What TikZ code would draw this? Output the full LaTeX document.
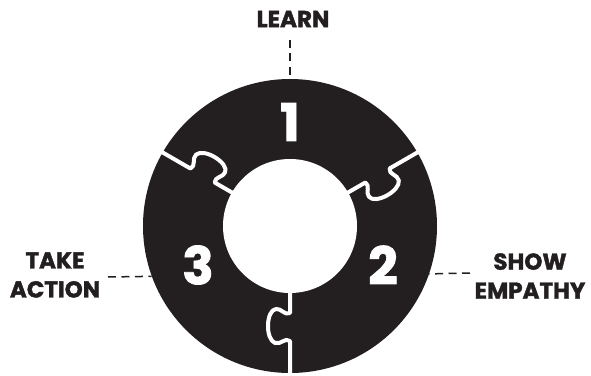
\documentclass[tikz,border=0pt]{standalone}
\usepackage{fontspec}
\setmainfont{Poppins}[BoldFeatures={FakeBold=1.6}]
\definecolor{ink}{HTML}{231F20}
\tikzset{
  seamline/.style={white, line width=4pt, line join=round, line cap=butt},
  knobseam/.pic={
    \draw[seamline] (60,0) -- (87,0)
      .. controls (90,-5) and (82,-9) .. (83,-14)
      .. controls (84,-24) and (113,-25) .. (117,-15)
      .. controls (119,-9) and (111,-5) .. (115,0)
      -- (165,0);
  },
  numlabel/.style={text=white, font=\fontsize{52}{52}\selectfont\bfseries, inner sep=0pt},
  steplabel/.style={text=ink, font=\fontsize{23}{29}\selectfont\bfseries, align=center, inner sep=0pt},
  leader/.style={ink, line width=1.5pt, dash pattern=on 8pt off 5.5pt},
}
\begin{document}
\begin{tikzpicture}[x=1pt, y=1pt]
\useasboundingbox (-290,-149) rectangle (301,226);
\node[circle, fill=ink, minimum size=294pt, inner sep=0pt] (ring) at (0,0) {};
\node[circle, fill=white, minimum size=134pt, inner sep=0pt] (hole) at (0,0) {};
\pic[rotate=30] {knobseam};
\pic[rotate=150] {knobseam};
\pic[rotate=270] {knobseam};
\node[numlabel] (n1) at (0,104) {1};
\node[numlabel] (n2) at (93,-39) {2};
\node[numlabel] (n3) at (-92,-39) {3};
\node[steplabel] (learn) at (3,207) {LEARN};
\node[steplabel] (take) at (-235,-49) {TAKE\\ACTION};
\node[steplabel] (show) at (240,-50) {SHOW\\EMPATHY};
\coordinate (lt) at (0,186);
\coordinate (tl) at (-182,-51);
\coordinate (sl) at (180,-47);
\draw[leader] (lt) -- (ring.north);
\draw[leader] (tl) -- (ring.200);
\draw[leader] (sl) -- (ring.341);
\end{tikzpicture}
\end{document}
